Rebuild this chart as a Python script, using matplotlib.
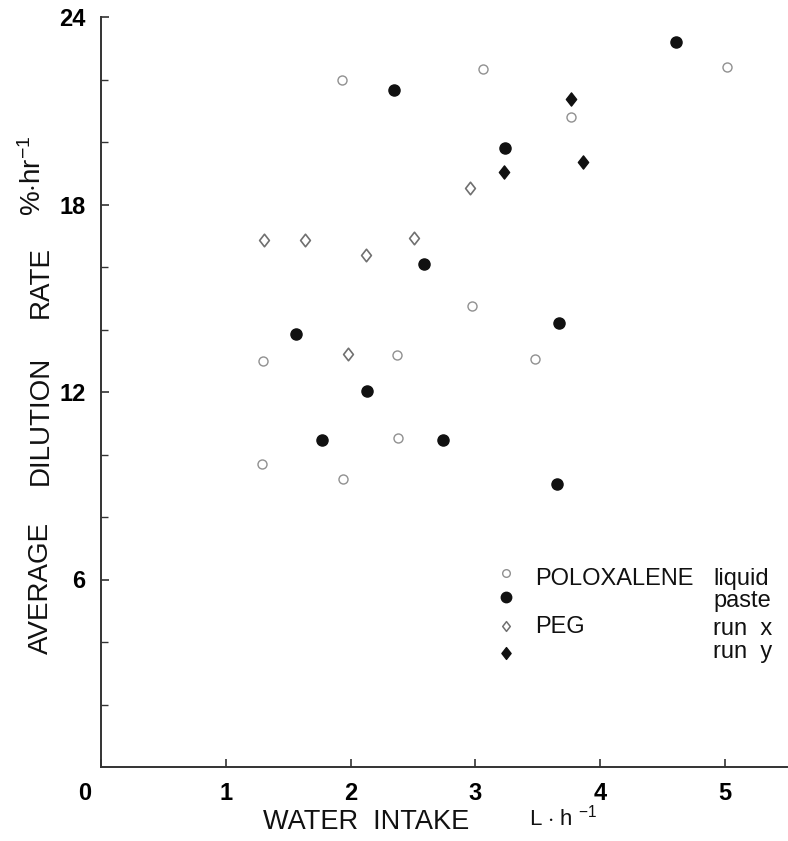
import matplotlib
matplotlib.use("Agg")
import matplotlib.pyplot as plt
from matplotlib.transforms import ScaledTranslation
from matplotlib.path import Path

plt.rcParams['font.family'] = ['Liberation Sans', 'DejaVu Sans']
plt.rcParams['mathtext.fontset'] = 'custom'
plt.rcParams['mathtext.rm'] = 'Liberation Sans'
plt.rcParams['mathtext.it'] = 'Liberation Sans'

# Data (water intake L/h, dilution rate %/hr)
liquid_x = [1.93, 3.06, 5.02, 3.77, 2.97, 1.30, 2.37, 3.48, 2.38, 1.29, 1.94]
liquid_y = [22.0, 22.35, 22.4, 20.8, 14.75, 13.0, 13.2, 13.05, 10.53, 9.7, 9.23]

paste_x = [4.61, 2.35, 3.24, 2.59, 1.56, 3.67, 2.13, 1.77, 2.74, 3.65]
paste_y = [23.2, 21.68, 19.82, 16.1, 13.85, 14.2, 12.04, 10.46, 10.46, 9.06]

runx_x = [1.31, 1.635, 2.12, 2.51, 1.98, 2.96]
runx_y = [16.86, 16.86, 16.38, 16.93, 13.22, 18.52]

runy_x = [3.77, 3.865, 3.23]
runy_y = [21.39, 19.35, 19.03]

x_ticks = [0, 1, 2, 3, 4, 5]
y_ticks = [6, 12, 18, 24]

diamond = Path([(0, 1), (0.78, 0), (0, -1), (-0.78, 0), (0, 1)],
               [Path.MOVETO, Path.LINETO, Path.LINETO, Path.LINETO, Path.CLOSEPOLY])

W, H = 788, 841
fig = plt.figure(figsize=(W / 100, H / 100), dpi=100)
ax = fig.add_axes([101 / W, (H - 767) / H, 686.4 / W, 750 / H])
ax.set_xlim(0, 5.5)
ax.set_ylim(0, 24)

ax.plot(liquid_x, liquid_y, 'o', ms=6.5, mfc='white', mec='#909090', mew=1.0, ls='none')
ax.plot(paste_x, paste_y, 'o', ms=8, mfc='#111111', mec='#111111', ls='none')
ax.plot(runx_x, runx_y, marker=diamond, ms=9, mfc='white', mec='#707070', mew=1.2, ls='none')
ax.plot(runy_x, runy_y, marker=diamond, ms=9.5, mfc='#111111', mec='#111111', ls='none')

for s in ['top', 'right']:
    ax.spines[s].set_visible(False)
for s in ['left', 'bottom']:
    ax.spines[s].set_linewidth(1.4)
    ax.spines[s].set_color('#333333')

ax.set_xticks(x_ticks)
ax.set_xticklabels([str(v) for v in x_ticks])
ax.set_yticks(y_ticks)
ax.set_yticklabels([str(v) for v in y_ticks])
ax.set_yticks([2, 4, 8, 10, 14, 16, 20, 22], minor=True)
ax.tick_params(axis='both', which='major', direction='in', length=6, width=1.2,
               color='#333333', labelsize=17, pad=11)
ax.tick_params(axis='y', which='minor', direction='in', length=5, width=1.0, color='#333333')
for lab in ax.get_xticklabels() + ax.get_yticklabels():
    lab.set_fontweight('heavy')
xl = ax.get_xticklabels()
xl[0].set_transform(xl[0].get_transform() + ScaledTranslation(-0.16, 0, fig.dpi_scale_trans))

def fx(px):
    return px / W
def fy(py):
    return 1 - py / H

lab_kw = dict(rotation=90, ha='center', va='center', fontsize=20, color='#111111')
fig.text(fx(41), fy(588), 'AVERAGE', **lab_kw)
fig.text(fx(41), fy(420), 'DILUTION', **lab_kw)
fig.text(fx(41), fy(282), 'RATE', **lab_kw)
fig.text(fx(33), fy(176), r'%$\cdot$hr$^{-1}$', **lab_kw)

fig.text(fx(366), fy(822), 'WATER  INTAKE', ha='center', va='center', fontsize=19.5,
         color='#111111')
fig.text(fx(563), fy(818), r'L $\cdot$ h $^{-1}$', ha='center', va='center', fontsize=16,
         color='#111111')

# legend drawn manually
lx = 0.590
ax.plot([lx], [0.2587], 'o', ms=5.5, mfc='white', mec='#909090', mew=1.0, transform=ax.transAxes, clip_on=False)
ax.plot([lx], [0.2267], 'o', ms=7.5, mfc='#111111', mec='#111111', transform=ax.transAxes, clip_on=False)
ax.plot([lx], [0.188], marker=diamond, ms=7, mfc='white', mec='#707070', mew=1.1, transform=ax.transAxes, clip_on=False)
ax.plot([lx], [0.152], marker=diamond, ms=8.5, mfc='#111111', mec='#111111', transform=ax.transAxes, clip_on=False)

tkw = dict(transform=ax.transAxes, fontsize=17, va='baseline', ha='left', color='#111111')
ax.text(0.632, 0.2427, 'POLOXALENE', **tkw)
ax.text(0.632, 0.1787, 'PEG', **tkw)
ax.text(0.8916, 0.2427, 'liquid', **tkw)
ax.text(0.8916, 0.2133, 'paste', **tkw)
ax.text(0.8916, 0.176, 'run  x', **tkw)
ax.text(0.8916, 0.1453, 'run  y', **tkw)

fig.savefig('out.png', dpi=100)
